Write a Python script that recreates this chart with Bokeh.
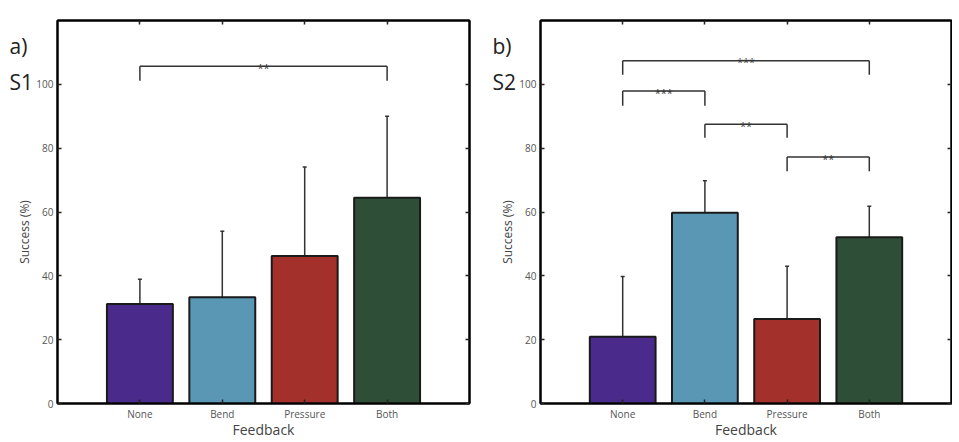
import math
from bokeh.plotting import figure
from bokeh.layouts import row
from bokeh.models import (ColumnDataSource, FixedTicker, LinearAxis, Range1d,
                          Whisker, TeeHead, Label)
from bokeh.core.properties import value
from bokeh.embed import file_html
from bokeh.resources import INLINE

categories = ["None", "Bend", "Pressure", "Both"]
colors = ["#4a2b8b", "#5a97b4", "#a3302a", "#2f4e38"]

s1_mean = [31.2, 33.3, 46.2, 64.5]
s1_sd = [7.7, 20.7, 27.9, 25.5]
s2_mean = [20.9, 59.8, 26.5, 52.1]
s2_sd = [18.9, 10.0, 16.5, 9.7]

# significance brackets: (left category index, right category index, height, legs, label)
s1_brackets = [(1, 4, 105.7, 4.6, "**")]
s2_brackets = [(1, 4, 107.4, 4.4, "***"),
               (1, 2, 97.9, 4.6, "***"),
               (2, 3, 87.5, 4.2, "**"),
               (3, 4, 77.2, 4.4, "**")]

yticks = [0, 20, 40, 60, 80, 100]
y_title = "Success (%)"
x_title = "Feedback"
FONT = "Open Sans"

TOP, FH, BOT = 20, 383, 36
H = TOP + FH + BOT
LW = 33  # width of the side strip that carries panel letter, subject and y title


def side_strip(letter, subject):
    s = figure(frame_width=LW, frame_height=H,
               min_border_left=0, min_border_right=0, min_border_top=0, min_border_bottom=0,
               x_range=Range1d(0, 1), y_range=Range1d(0, 1),
               x_axis_location=None, y_axis_location=None, title_location=None,
               output_backend="svg", toolbar_location=None,
               background_fill_color="white", border_fill_color="white")
    s.grid.visible = False
    s.outline_line_color = None
    s.add_layout(Label(x=9, y=H - 25, x_units="screen", y_units="screen",
                       text=letter, text_font=FONT, text_font_size="21px",
                       text_baseline="middle", text_color="#222222"))
    s.add_layout(Label(x=9, y=H - 61, x_units="screen", y_units="screen",
                       text=subject, text_font=FONT, text_font_size="21px",
                       text_baseline="middle", text_color="#222222"))
    s.add_layout(Label(x=24, y=H - (TOP + FH / 2), x_units="screen", y_units="screen",
                       text=y_title, text_font=FONT, text_font_size="12px",
                       angle=math.pi / 2, text_align="center",
                       text_baseline="middle", text_color="#444444"))
    return s


def make_panel(mean, sd, brackets, frame_w, border_right):
    x = list(range(1, len(categories) + 1))
    upper = [m + s for m, s in zip(mean, sd)]
    src = ColumnDataSource(dict(x=x, top=mean, upper=upper, color=colors))
    p = figure(frame_width=frame_w, frame_height=FH,
               min_border_left=57 - LW, min_border_right=border_right,
               min_border_top=TOP, min_border_bottom=BOT,
               x_range=Range1d(0, 5), y_range=Range1d(0, 120),
               title_location=None,
               output_backend="svg", toolbar_location=None,
               background_fill_color="white", border_fill_color="white")
    p.grid.visible = False
    p.outline_line_color = "black"
    p.outline_line_width = 2
    p.outline_line_alpha = 1

    p.vbar(x="x", top="top", bottom=0, width=0.8, fill_color="color",
           line_color="#1a1a1a", line_width=2, source=src)
    w = Whisker(base="x", lower="top", upper="upper", source=src,
                line_color="#333333", line_width=1.5,
                upper_head=TeeHead(size=4, line_color="#333333", line_width=1.5),
                lower_head=None)
    p.add_layout(w)

    for (a, b, h, leg, lab) in brackets:
        p.segment(x0=[a, a, b], y0=[h - leg, h, h - leg], x1=[a, b, b], y1=[h, h, h],
                  line_color="#333333", line_width=1.5)
        p.text(x=[(a + b) / 2], y=[h], text=[lab], text_align="center",
               text_baseline="middle", y_offset=1, text_font=value(FONT),
               text_font_size="11px", text_color="#333333")

    xa = p.xaxis[0]
    xa.ticker = FixedTicker(ticks=x)
    xa.major_label_overrides = {i: c for i, c in zip(x, categories)}
    xa.axis_label = x_title
    ya = p.yaxis[0]
    ya.ticker = FixedTicker(ticks=yticks)
    for ax in (xa, ya):
        ax.axis_line_color = "black"
        ax.axis_line_width = 2
        ax.major_tick_in = 4
        ax.major_tick_out = 0
        ax.minor_tick_line_color = None
        ax.major_tick_line_color = "#222222"
        ax.major_tick_line_width = 1.5
        ax.major_label_text_font = FONT
        ax.major_label_text_font_size = "10px"
        ax.major_label_text_color = "#555555"
        ax.axis_label_text_font = FONT
        ax.axis_label_text_font_style = "normal"
        ax.axis_label_text_color = "#444444"
    xa.major_label_standoff = 3
    xa.axis_label_standoff = -4
    xa.axis_label_text_font_size = "14px"
    ya.major_label_standoff = 4

    top = LinearAxis(ticker=FixedTicker(ticks=x),
                     major_label_overrides={i: "" for i in x},
                     major_tick_in=4, major_tick_out=0, minor_tick_line_color=None,
                     axis_line_color="black", axis_line_width=2,
                     major_tick_line_color="#222222", major_tick_line_width=1.5,
                     major_label_standoff=0)
    right = LinearAxis(ticker=FixedTicker(ticks=yticks),
                       major_label_overrides={t: "" for t in yticks},
                       major_tick_in=4, major_tick_out=0, minor_tick_line_color=None,
                       axis_line_color="black", axis_line_width=2,
                       major_tick_line_color="#222222", major_tick_line_width=1.5,
                       major_label_standoff=0)
    p.add_layout(top, "above")
    p.add_layout(right, "right")
    return p


l1 = side_strip("a)", "S1")
p1 = make_panel(s1_mean, s1_sd, s1_brackets, 412, 14)
l2 = side_strip("b)", "S2")
p2 = make_panel(s2_mean, s2_sd, s2_brackets, 411, 1)
p = row(l1, p1, l2, p2)

open("out.html", "w").write(file_html(p, INLINE))
